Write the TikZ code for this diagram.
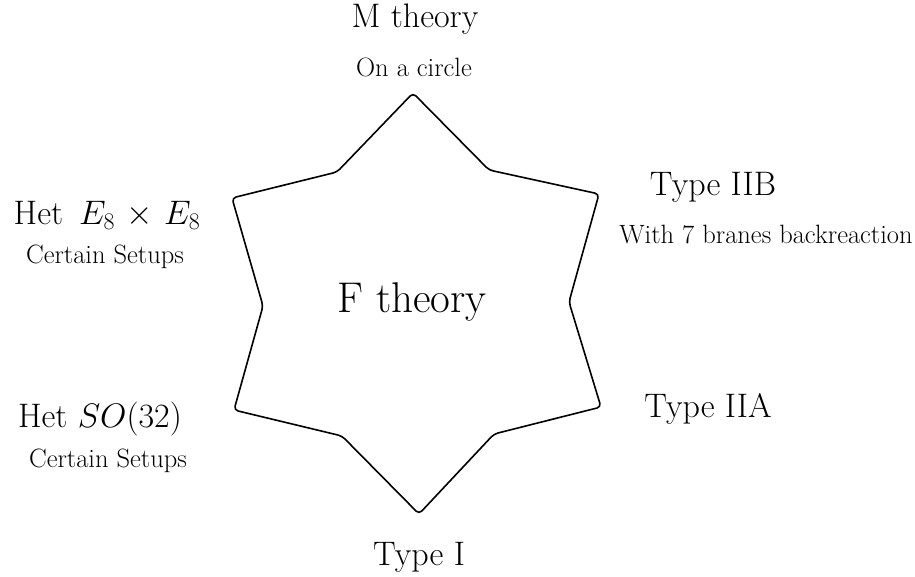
\RequirePackage{fix-cm}
\documentclass[tikz,border=0pt]{standalone}
\usepackage{amsmath,amssymb}
\usepackage{tikz}
\usetikzlibrary{positioning}

\begin{document}
\begin{tikzpicture}[
        x=1pt,
        y=-1pt,
        starline/.style={line width=1.6pt, rounded corners=4pt, line join=round},
        centre/.style={anchor=base, inner sep=0pt, font=\fontsize{43}{50}\selectfont},
        theory/.style={anchor=base, inner sep=0pt, font=\fontsize{34}{40}\selectfont},
        remark/.style={anchor=base, inner sep=0pt, font=\fontsize{26.5}{32}\selectfont}
    ]
        \useasboundingbox (0,0) rectangle (915,576);

        % The six-pointed star standing for F theory.
        \draw[starline]
            (413,93) -- (489,170) -- (599,194) -- (569,302) -- (601,407) -- (494,434)
            -- (419,514) -- (342,436) -- (234,410) -- (263,306) -- (232,198) -- (337,172) -- cycle;
        \node[centre] (ftheory) at (412,312) {F theory};

        % One limit at every point of the star.
        \node[theory] (mtheory) at (415,27) {M theory};
        \node[remark] (mnote) at (414,76) {On a circle};

        \node[theory] (iib) at (713,195) {Type IIB};
        \node[remark] (iibnote) at (766,243) {With 7 branes backreaction};

        \node[theory] (iia) at (708,417) {Type IIA};

        \node[theory] (typei) at (419,565) {Type I};

        \node[theory] (hete) at (107,224) {Het\ \,$E_8\mskip2mu\times\mskip2mu E_8$};
        \node[remark] (hetenote) at (105,263) {Certain Setups};

        \node[theory] (heto) at (100,427) {Het $SO(32)$};
        \node[remark] (hetonote) at (108,467) {Certain Setups};
    \end{tikzpicture}
\end{document}
